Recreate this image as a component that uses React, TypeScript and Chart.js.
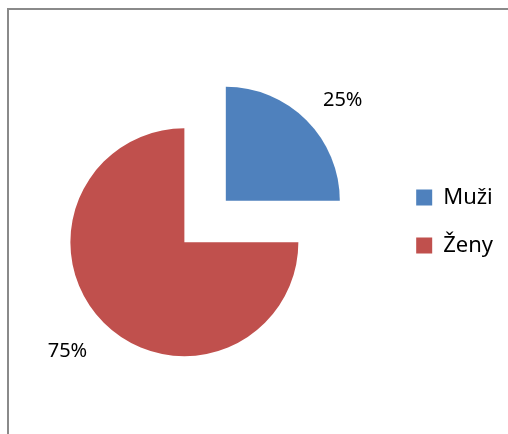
import React, { useEffect, useRef } from "react";
import { Chart, registerables } from "chart.js";

Chart.register(...registerables);

const categories = ["Muži", "Ženy"];
const values = [25, 75];
const percentLabels = ["25%", "75%"];
const sliceColors = ["#4F81BD", "#C0504D"];

const FONT_FAMILY = "'Noto Sans', 'DejaVu Sans', sans-serif";
const EXPLODE = 29.3;

export default function App() {
  const canvasRef = useRef<HTMLCanvasElement>(null);

  useEffect(() => {
    if (!canvasRef.current) return;

    const framePlugin = {
      id: "frame",
      beforeDraw(chart: any) {
        const ctx = chart.ctx;
        ctx.save();
        ctx.fillStyle = "#ffffff";
        ctx.fillRect(0, 0, chart.width, chart.height);
        ctx.fillStyle = "#8a8a8a";
        ctx.fillRect(7, 8, chart.width - 7, 2);
        ctx.fillRect(7, 8, 2, chart.height - 8);
        ctx.restore();
      },
    };

    // draw each slice exploded along its bisector (Excel-style exploded pie)
    const explodePlugin = {
      id: "explode",
      beforeDatasetsDraw(chart: any) {
        const meta = chart.getDatasetMeta(0);
        const ctx = chart.ctx;
        meta.data.forEach((arc: any) => {
          const mid = (arc.startAngle + arc.endAngle) / 2;
          ctx.save();
          ctx.translate(Math.cos(mid) * EXPLODE, Math.sin(mid) * EXPLODE);
          arc.draw(ctx);
          ctx.restore();
        });
        return false;
      },
      afterDraw(chart: any) {
        const meta = chart.getDatasetMeta(0);
        const ctx = chart.ctx;
        ctx.save();
        ctx.font = `20px ${FONT_FAMILY}`;
        ctx.fillStyle = "#000000";
        ctx.textAlign = "center";
        ctx.textBaseline = "middle";
        meta.data.forEach((arc: any, i: number) => {
          const mid = (arc.startAngle + arc.endAngle) / 2;
          const cx = arc.x + Math.cos(mid) * EXPLODE;
          const cy = arc.y + Math.sin(mid) * EXPLODE;
          ctx.fillText(
            percentLabels[i],
            cx + Math.cos(mid) * arc.outerRadius * 1.45,
            cy + Math.sin(mid) * arc.outerRadius * 1.3 + 4
          );
        });
        ctx.restore();
      },
    };

    const chart = new Chart(canvasRef.current, {
      type: "pie",
      data: {
        labels: categories,
        datasets: [
          {
            data: values,
            backgroundColor: sliceColors,
            borderWidth: 0,
            hoverOffset: 0,
          },
        ],
      },
      options: {
        responsive: false,
        animation: false,
        devicePixelRatio: 1,
        radius: 114,
        layout: { padding: { left: 20, right: 5, top: 9, bottom: 0 } },
        plugins: {
          legend: {
            position: "right",
            labels: {
              boxWidth: 16,
              boxHeight: 16,
              padding: 26,
              color: "#000000",
              font: { size: 22, family: FONT_FAMILY },
            },
          },
          tooltip: { enabled: false },
        },
      } as any,
      plugins: [framePlugin, explodePlugin],
    });

    return () => chart.destroy();
  }, []);

  return (
    <div style={{ position: "fixed", left: 0, top: 0, width: 508, height: 434 }}>
      <canvas ref={canvasRef} width={508} height={434} style={{ display: "block", width: 508, height: 434 }} />
    </div>
  );
}
